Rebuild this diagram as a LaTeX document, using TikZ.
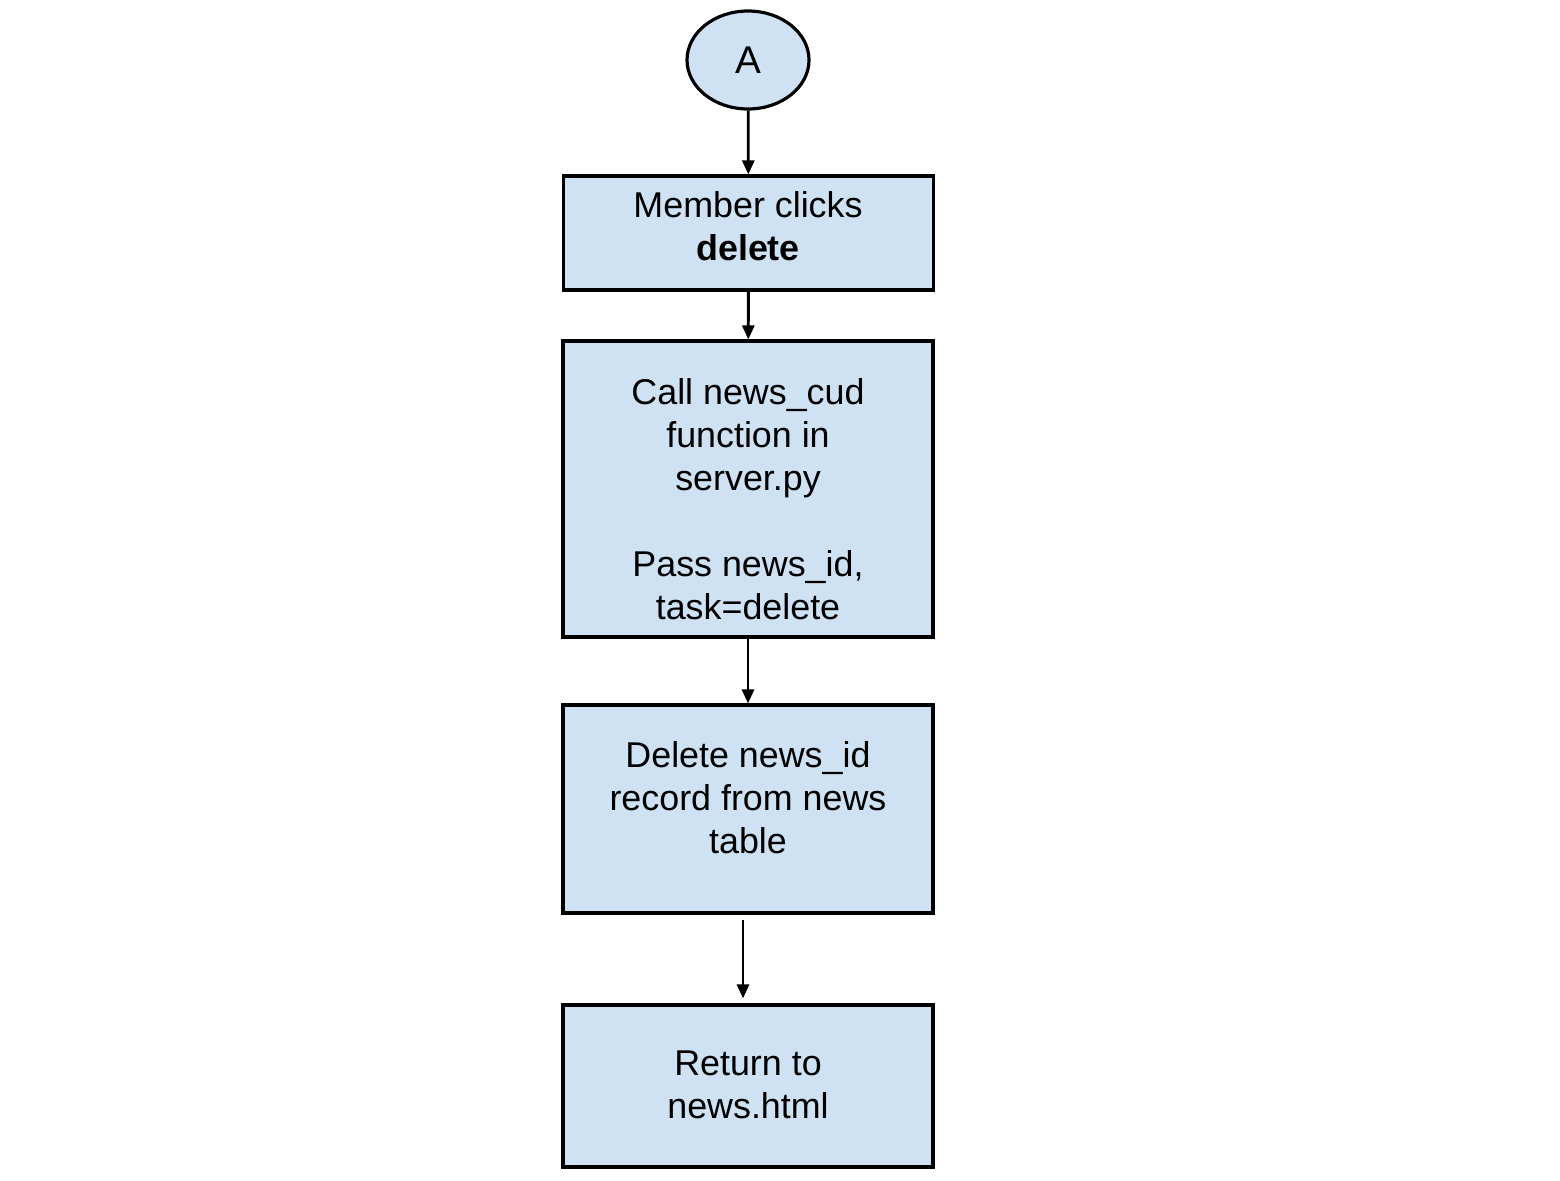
\documentclass[tikz,border=0pt]{standalone}
\usepackage{fontspec}
\setmainfont{Liberation Sans}
\usepackage{xcolor}
\usepackage{tikz}
\usetikzlibrary{shapes,arrows,positioning,calc,arrows.meta}
\definecolor{boxblue}{HTML}{CFE2F3}

\begin{document}
\begin{tikzpicture}[
    box/.style={draw, line width=0.9pt, fill=boxblue, minimum width=3.70cm, inner sep=0pt},
    txt/.style={align=center, font=\fontsize{10.2}{12.2}\selectfont},
    link/.style={-{Triangle[length=1.4mm,width=1.2mm]}, line width=0.8pt}
]
    \useasboundingbox (0,0) rectangle (15.6,-11.8);

    % Connector
    \node[draw, ellipse, line width=0.9pt, fill=boxblue, minimum width=1.22cm, minimum height=0.98cm, inner sep=0pt,
          font=\fontsize{11}{13}\selectfont] (start) at (7.48,-0.60) {A};

    % Member action
    \node[box, minimum height=1.14cm] (click) at (7.485,-2.33) {};
    \node[txt] (clicktxt) at (7.48,-2.26) {Member clicks\\\textbf{delete}};

    % Call server
    \node[box, minimum height=2.96cm] (call) at (7.48,-4.89) {};
    \node[txt] (calltxt) at (7.48,-4.99) {Call news\_cud\\function in\\server.py\\[12.2pt]Pass news\_id,\\task=delete};

    % Delete record
    \node[box, minimum height=2.08cm] (del) at (7.48,-8.09) {};
    \node[txt] (deltxt) at (7.48,-7.98) {Delete news\_id\\record from news\\table};

    % Return
    \node[box, minimum height=1.62cm] (ret) at (7.48,-10.86) {};
    \node[txt] (rettxt) at (7.48,-10.85) {Return to\\news.html};

    \draw[link] (start) -- (click);
    \draw[link] (click) -- (call);
    \draw[link] (call) -- (del);
    \draw[link] ([xshift=-0.05cm,yshift=-0.05cm]del.south) -- ([xshift=-0.05cm,yshift=0.05cm]ret.north);
\end{tikzpicture}
\end{document}
